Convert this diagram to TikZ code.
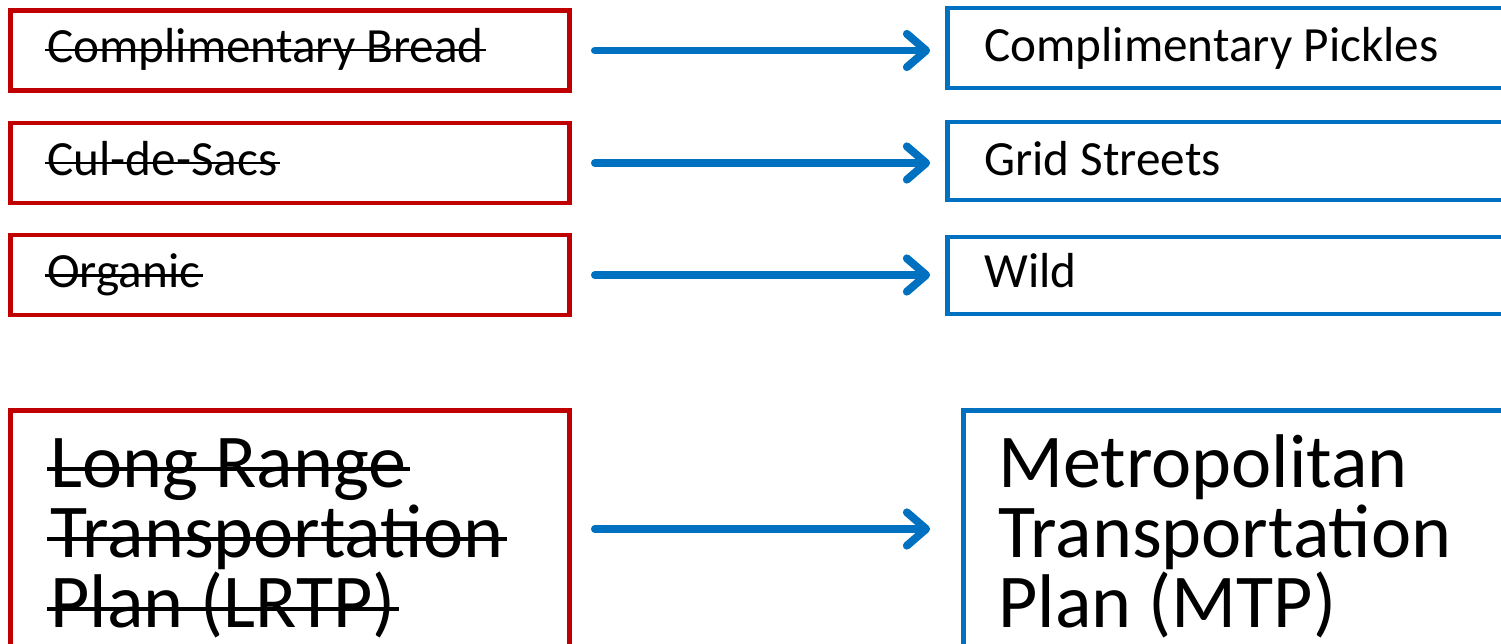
\documentclass[tikz,border=0pt]{standalone}
\usepackage{fontspec}
\setmainfont{Carlito}
\usetikzlibrary{arrows.meta}
\definecolor{oldred}{RGB}{192,0,0}
\definecolor{newblue}{RGB}{0,112,192}

\begin{document}
\begin{tikzpicture}
[x=0.02cm,y=-0.02cm,
oldbox/.style={rectangle,draw=oldred,line width=2.8pt,minimum width=11.2cm,minimum height=1.6cm,inner sep=0pt},
newbox/.style={rectangle,draw=newblue,line width=2.8pt,minimum width=11.65cm,minimum height=1.6cm,inner sep=0pt},
lbl/.style={inner sep=0pt,anchor=base west,font=\fontsize{28}{32}\selectfont},
biglbl/.style={inner sep=0pt,anchor=base west,font=\fontsize{43.3}{40}\selectfont},
strike/.style={line width=1.7pt},
swap/.style={draw=newblue,line width=4.5pt,line cap=round,-{Straight Barb[length=11pt,width=19pt,round]}}]
\clip (0,0) rectangle (1501,643);
% old names
\node[oldbox] (old1) at (290,50.5) {};
\node[oldbox] (old2) at (290,163) {};
\node[oldbox] (old3) at (290,275) {};
\node[oldbox,minimum height=4.74cm] (old4) at (290,529) {};
\node[lbl] (old1t) at (47,62) {Complimentary Bread};
\node[lbl] (old2t) at (47,175) {Cul-de-Sacs};
\node[lbl] (old3t) at (47,287) {Organic};
\node[biglbl] (old4a) at (50,487) {Long Range};
\node[biglbl] (old4b) at (50,557) {Transportation};
\node[biglbl] (old4c) at (50,627) {Plan (LRTP)};
% strike-through
\foreach \t in {old1t,old2t,old3t}
  \draw[strike] ([shift={(-2,-12)}]\t.base west) -- ([shift={(2,-12)}]\t.base east);
\foreach \t in {old4a,old4b,old4c}
  \draw[strike,line width=2.3pt] ([shift={(-3,-18)}]\t.base west) -- ([shift={(3,-18)}]\t.base east);
% new names
\node[newbox] (new1) at (1238.75,48) {};
\node[newbox,minimum height=1.56cm] (new2) at (1238.75,161) {};
\node[newbox,minimum height=1.54cm] (new3) at (1238.75,275.5) {};
\node[newbox,minimum width=11.34cm,minimum height=4.74cm] (new4) at (1246.5,529) {};
\node[lbl] (new1t) at (984,61) {Complimentary Pickles};
\node[lbl] (new2t) at (984,175) {Grid Streets};
\node[lbl] (new3t) at (984,287) {Wild};
\node[biglbl] (new4a) at (998,487) {Metropolitan};
\node[biglbl] (new4b) at (998,557) {Transportation};
\node[biglbl] (new4c) at (998,627) {Plan (MTP)};
% arrows
\draw[swap,shorten <=0.45cm,shorten >=0.3cm] (old1.east) -- (old1.east -| new1.west);
\draw[swap,shorten <=0.45cm,shorten >=0.3cm] (old2.east) -- (old2.east -| new2.west);
\draw[swap,shorten <=0.45cm,shorten >=0.3cm] (old3.east) -- (old3.east -| new3.west);
\draw[swap,shorten <=0.45cm,shorten >=0.61cm] (old4.east) -- (old4.east -| new4.west);
\end{tikzpicture}
\end{document}
